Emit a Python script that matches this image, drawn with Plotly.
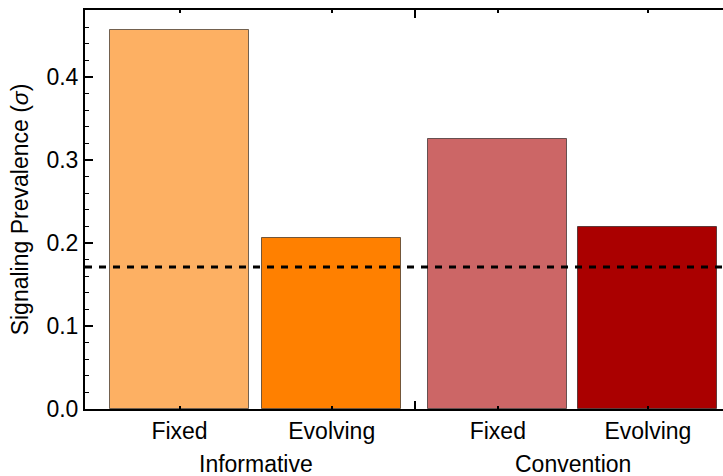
import plotly.graph_objects as go

# Signaling prevalence by environment and signal type
groups = ["Informative", "Convention"]
conditions = ["Fixed", "Evolving", "Fixed", "Evolving"]
bar_group = ["Informative", "Informative", "Convention", "Convention"]
prevalence = [0.4566, 0.2057, 0.3253, 0.2189]
baseline = 0.1711

bar_colors = ["#FDB063", "#FF8000", "#CC6666", "#AA0000"]

# bar centres along a numeric axis: small gap inside a group, larger gap between groups
positions = [0.5, 1.595, 2.79, 3.87]
group_centres = [(positions[0] + positions[1]) / 2, (positions[2] + positions[3]) / 2]
group_split = (positions[1] + positions[2]) / 2

FONT = "Liberation Sans, Arial, Helvetica, sans-serif"
TICK_SIZE = 23

fig = go.Figure()
fig.add_trace(go.Bar(
    x=positions,
    y=prevalence,
    width=1.0,
    marker=dict(color=bar_colors, line=dict(color="rgba(0,0,0,0.55)", width=1)),
    hovertext=[f"{g} / {c}" for g, c in zip(bar_group, conditions)],
    showlegend=False,
))

fig.add_hline(y=baseline, line=dict(color="black", width=3, dash="7px,7px"))

for g, xc in zip(groups, group_centres):
    fig.add_annotation(x=xc, xref="x", y=-0.137, yref="paper", text=g,
                       showarrow=False, yanchor="middle",
                       font=dict(size=TICK_SIZE, color="black", family=FONT))

fig.update_layout(
    width=723, height=476,
    margin=dict(l=85, r=0, t=10, b=67),
    plot_bgcolor="white", paper_bgcolor="white",
    font=dict(family=FONT, size=TICK_SIZE, color="black"),
    bargap=0,
)

fig.update_xaxes(
    range=[-0.18, 4.41],
    tickmode="array", tickvals=positions, ticktext=conditions,
    ticks="inside", ticklen=3, tickwidth=1.5, tickcolor="black",
    minor=dict(tickmode="array", tickvals=[group_split], ticks="inside",
               ticklen=8, tickwidth=2, tickcolor="black"),
    showline=True, linecolor="black", linewidth=2, mirror="ticks",
    showgrid=False, zeroline=False,
    tickfont=dict(size=TICK_SIZE, color="black"),
)

fig.update_yaxes(
    range=[0, 0.4807],
    tickmode="array", tickvals=[0, 0.1, 0.2, 0.3, 0.4], tickformat=".1f",
    ticks="inside", ticklen=8, tickwidth=1.5, tickcolor="black",
    minor=dict(dtick=0.02, ticks="inside", ticklen=4, tickwidth=1.2, tickcolor="black"),
    showline=True, linecolor="black", linewidth=2,
    showgrid=False, zeroline=False,
    tickfont=dict(size=TICK_SIZE, color="black"),
    title=dict(text="Signaling Prevalence (<i>σ</i>)", font=dict(size=23, color="black"), standoff=11),
)

fig.write_html("out.html")
